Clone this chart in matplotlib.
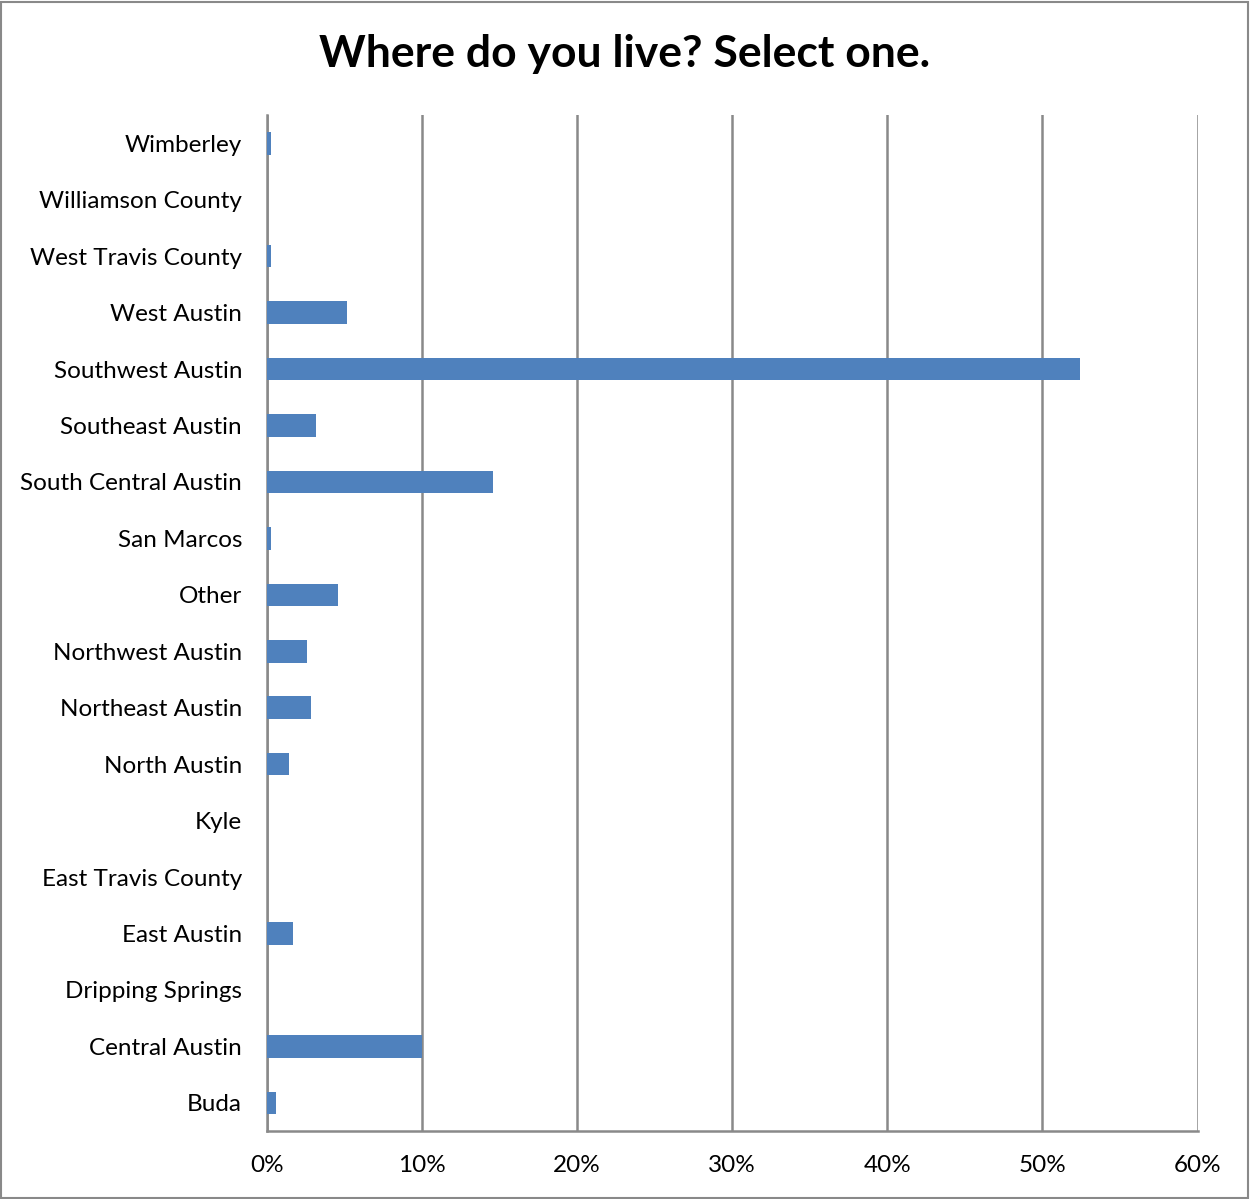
import numpy as np
import matplotlib.pyplot as plt
from matplotlib.ticker import FuncFormatter
from matplotlib.patches import Rectangle

areas = ["Buda", "Central Austin", "Dripping Springs", "East Austin", "East Travis County",
         "Kyle", "North Austin", "Northeast Austin", "Northwest Austin", "Other",
         "San Marcos", "South Central Austin", "Southeast Austin", "Southwest Austin",
         "West Austin", "West Travis County", "Williamson County", "Wimberley"]
share = [0.0058, 0.1000, 0.0, 0.0170, 0.0, 0.0, 0.0142, 0.0285, 0.0258, 0.0457,
         0.0027, 0.1460, 0.0315, 0.5243, 0.0516, 0.0027, 0.0, 0.0027]
ticks = [0, 0.1, 0.2, 0.3, 0.4, 0.5, 0.6]

plt.rcParams['font.family'] = ['Lato', 'DejaVu Sans']
grid_col = '#898989'

fig = plt.figure(figsize=(12.5, 11.99), dpi=100)
ax = fig.add_axes([0.2136, 0.0567, 0.7444, 0.8473])
y = np.arange(len(areas))
ax.barh(y, share, 0.4, color='#4f81bd', zorder=3)
ax.set_yticks(y)
ax.set_yticklabels(areas, fontsize=17.5)
ax.set_ylim(-0.5, len(areas) - 0.5)
ax.set_xlim(0, 0.6)
ax.set_xticks(ticks)
ax.xaxis.set_major_formatter(FuncFormatter(lambda v, p: '%d%%' % round(v * 100)))
ax.tick_params(axis='x', labelsize=17.5, length=0, pad=17)
ax.tick_params(axis='y', length=0, pad=18)
ax.grid(axis='x', color=grid_col, linewidth=1.8, zorder=0)
for s in ['top', 'right']:
    ax.spines[s].set_visible(False)
for s in ['left', 'bottom']:
    ax.spines[s].set_color(grid_col)
    ax.spines[s].set_linewidth(1.8)

fig.text(0.5, 0.955, "Where do you live? Select one.", ha='center', va='center',
         fontsize=32, fontweight='bold')
fig.patches.append(Rectangle((0.001, 0.001), 0.997, 0.997, transform=fig.transFigure,
                             fill=False, edgecolor=grid_col, linewidth=1.5))
plt.savefig('out.png', dpi=100)
